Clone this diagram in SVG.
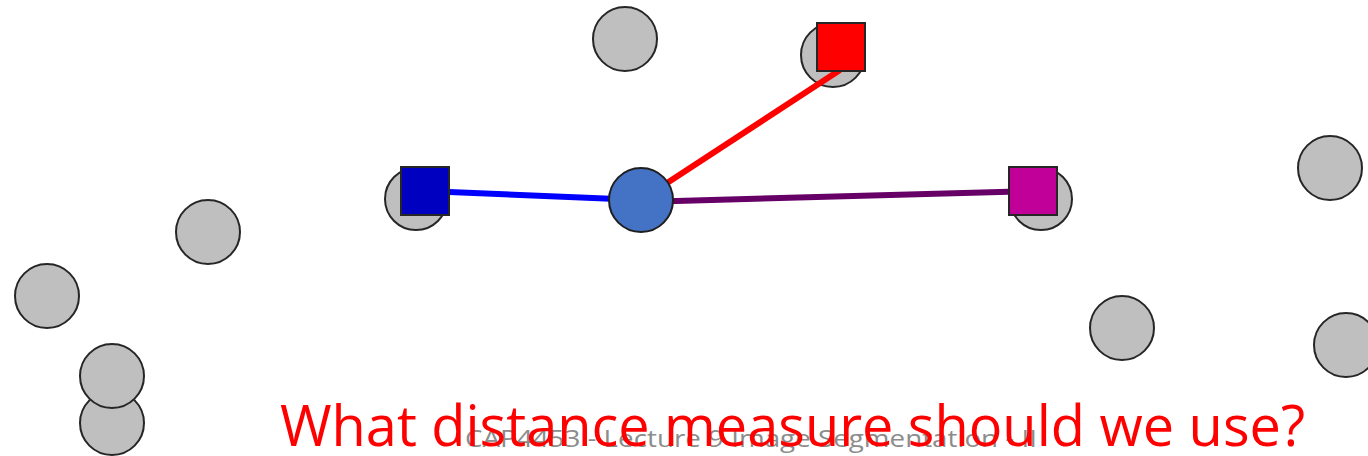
<svg xmlns="http://www.w3.org/2000/svg" width="1368" height="456" viewBox="0 0 1368 456">
<style>
.pt{fill:#BFBFBF;stroke:#262626;stroke-width:2}
.ctr{fill:#4472C4;stroke:#1F1F1F;stroke-width:2}
.sq{stroke:#262626;stroke-width:2}
.edge{fill:none;stroke-width:6;stroke-linecap:butt}
.title{font-family:"Open Sans","Liberation Sans",sans-serif;font-size:56px;fill:#FF0000}
.foot{font-family:"Open Sans","Liberation Sans",sans-serif;font-size:24px;fill:#8C8C8C}
</style>
<rect width="1368" height="456" fill="#FFFFFF"/>
<g id="points">
<circle class="pt" cx="625" cy="39" r="32"/>
<circle class="pt" cx="833" cy="55" r="32"/>
<circle class="pt" cx="416" cy="199" r="31"/>
<circle class="pt" cx="1041" cy="199" r="31"/>
<circle class="pt" cx="208" cy="232" r="32"/>
<circle class="pt" cx="47" cy="296" r="32"/>
<circle class="pt" cx="112" cy="423" r="32"/>
<circle class="pt" cx="112" cy="376" r="32"/>
<circle class="pt" cx="1330" cy="168" r="32"/>
<circle class="pt" cx="1122" cy="328" r="32"/>
<circle class="pt" cx="1346" cy="345" r="32"/>
</g>
<g id="connectors">
<line class="edge" x1="425" y1="191" x2="641" y2="200" stroke="#0000FF"/>
<line class="edge" x1="641" y1="200" x2="840" y2="70" stroke="#FF0000" stroke-width="7"/>
<line class="edge" x1="641" y1="202" x2="1033" y2="191" stroke="#660066"/>
</g>
<g id="center"><circle class="ctr" cx="641" cy="200" r="32"/></g>
<g id="blue-square"><rect class="sq" x="401" y="167" width="48" height="48" fill="#0000C0"/></g>
<g id="red-square"><rect class="sq" x="817" y="23" width="48" height="48" fill="#FF0000"/></g>
<g id="magenta-square"><rect class="sq" x="1009" y="167" width="48" height="48" fill="#C00099"/></g>
<text class="foot" x="465" y="447" textLength="572" lengthAdjust="spacingAndGlyphs">CAP4453 - Lecture 9 Image Segmentation - II</text>
<text class="title" x="280" y="446" textLength="1025" lengthAdjust="spacingAndGlyphs">What distance measure should we use?</text>
</svg>
